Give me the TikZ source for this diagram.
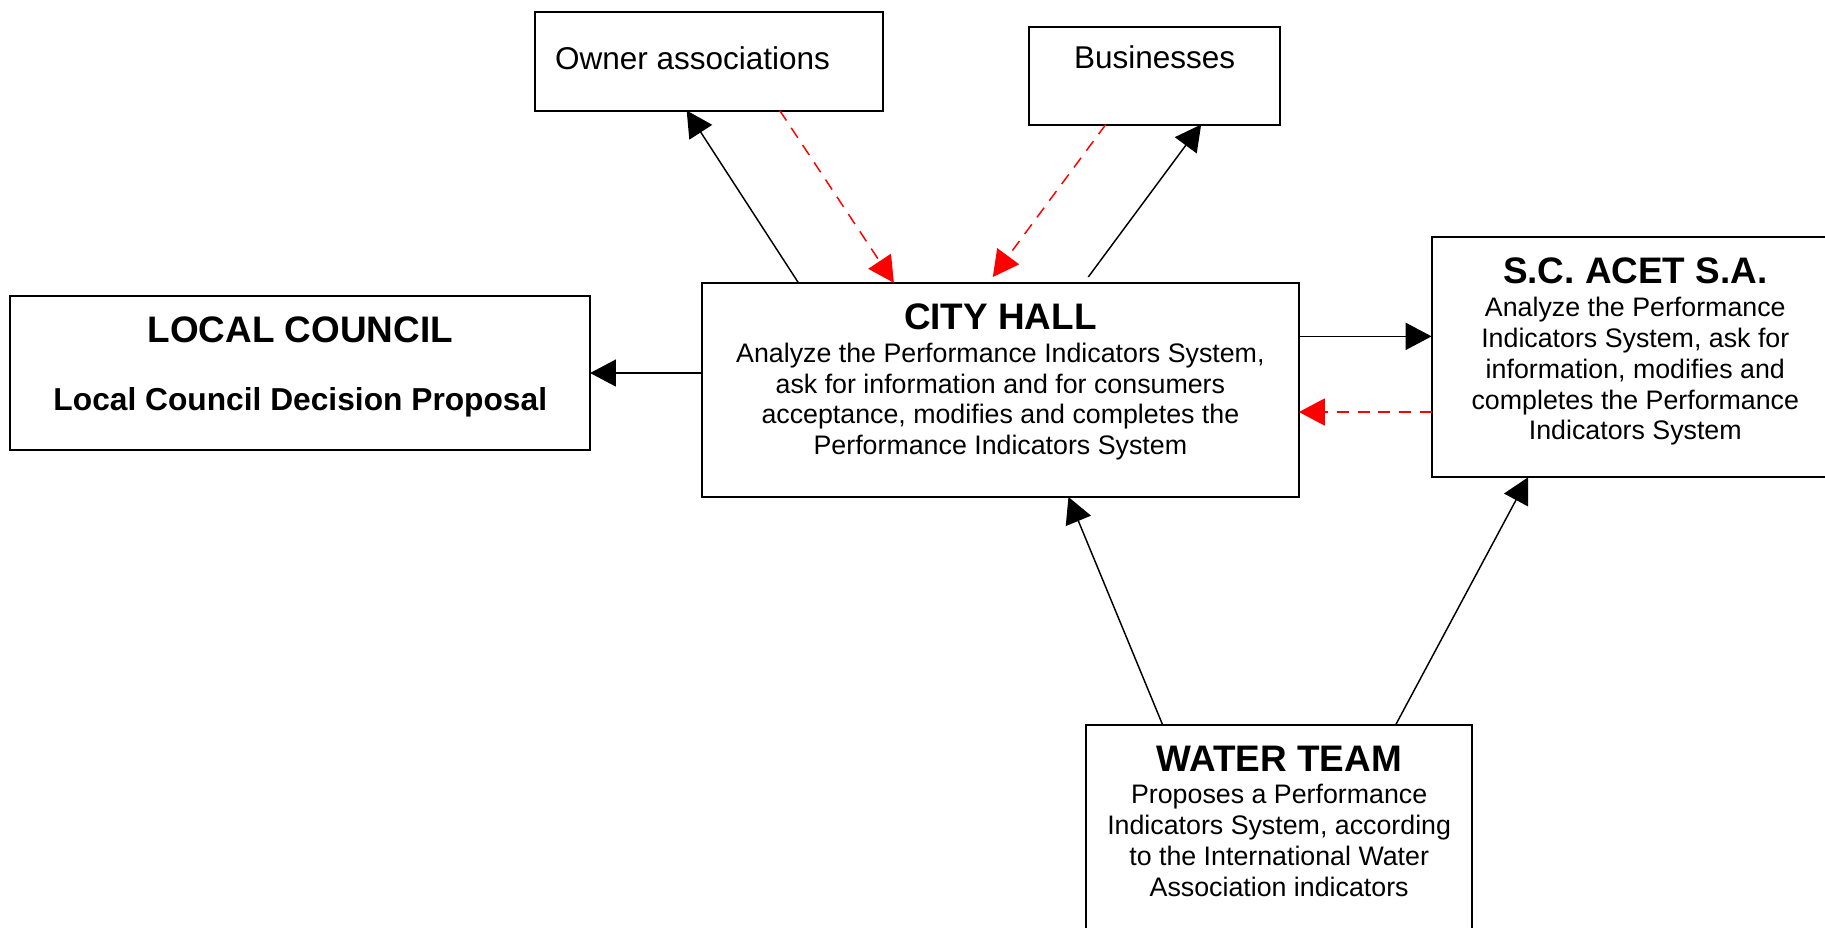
\documentclass[tikz,border=0pt]{standalone}
\usepackage{fontspec}
\setmainfont{Liberation Sans}
\usetikzlibrary{arrows.meta}
\newcommand\pxu{0.5173pt}

\begin{document}
\begin{tikzpicture}[x=0.5173pt, y=-0.5173pt,
  box/.style={draw, line width=0.9pt, inner sep=0pt, outer sep=0pt},
  heading/.style={font=\fontsize{16.4}{18.9}\selectfont\bfseries, inner sep=0pt},
  subheading/.style={font=\fontsize{14.1}{16.2}\selectfont\bfseries, inner sep=0pt},
  plain/.style={font=\fontsize{14}{16.1}\selectfont, inner sep=0pt},
  body/.style={font=\fontsize{11.9}{13.7}\selectfont, align=center, inner sep=0pt},
  flow/.style={line width=0.65pt, -{Triangle[length=11.5pt,width=12pt]}},
  reply/.style={flow, red, dash pattern=on 5.3pt off 3.9pt}
]
\useasboundingbox (0,0) rectangle (1568,797);
\clip (0,0) rectangle (1568,797);

% boxes
\node[box, minimum width=299*\pxu, minimum height=85*\pxu]  (owner) at (609.5,52.5) {};
\node[box, minimum width=216*\pxu, minimum height=84*\pxu]  (bus)   at (992,65)     {};
\node[box, minimum width=513*\pxu, minimum height=184*\pxu] (ch)    at (859.5,335)  {};
\node[box, minimum width=498*\pxu, minimum height=133*\pxu] (lc)    at (258,320.5)  {};
\node[box, minimum width=350*\pxu, minimum height=206*\pxu] (sc)    at (1405,307)   {};
\node[box, minimum width=332*\pxu, minimum height=212*\pxu] (wt)    at (1099,729)   {};

% texts
\node[plain] (owner-t) at (595,50) {Owner associations};
\node[plain] (bus-t)   at (992,49) {Businesses};

\node[heading] (ch-t) at (859.5,272) {CITY HALL};
\node[body] (ch-b) at (859.5,345) {Analyze the Performance Indicators System,\\
  ask for information and for consumers\\
  acceptance, modifies and completes the\\
  Performance Indicators System};

\node[heading] (lc-t) at (258,283) {LOCAL COUNCIL};
\node[subheading] (lc-b) at (258,346) {Local Council Decision Proposal};

\node[heading] (sc-t) at (1405,233) {S.C. ACET S.A.};
\node[body] (sc-b) at (1405,319) {Analyze the Performance\\
  Indicators System, ask for\\
  information, modifies and\\
  completes the Performance\\
  Indicators System};

\node[heading] (wt-t) at (1099,652) {WATER TEAM};
\node[body] (wt-b) at (1099,722) {Proposes a Performance\\
  Indicators System, according\\
  to the International Water\\
  Association indicators};

% connectors
\draw[flow]  ([xshift=83*\pxu]ch.north west) -- ([xshift=130*\pxu]owner.south west);
\draw[reply] ([xshift=210*\pxu]owner.south west) -- ([xshift=165*\pxu]ch.north west);
\draw[reply] ([xshift=66*\pxu]bus.south west) -- ([xshift=250*\pxu,yshift=5*\pxu]ch.north west);
\draw[flow]  ([xshift=332*\pxu,yshift=5*\pxu]ch.north west) -- ([xshift=148*\pxu]bus.south west);
\draw[flow]  (ch.west |- lc.east) -- (lc.east);
\draw[flow]  ([yshift=46*\pxu]ch.east) -- ([yshift=18*\pxu]sc.west);
\draw[reply] ([yshift=-47*\pxu]sc.west) -- ([yshift=-19*\pxu]ch.east);
\draw[flow]  ([xshift=66*\pxu]wt.north west) -- ([xshift=315*\pxu]ch.south west);
\draw[flow]  ([xshift=266*\pxu]wt.north west) -- ([xshift=83*\pxu]sc.south west);
\end{tikzpicture}
\end{document}
